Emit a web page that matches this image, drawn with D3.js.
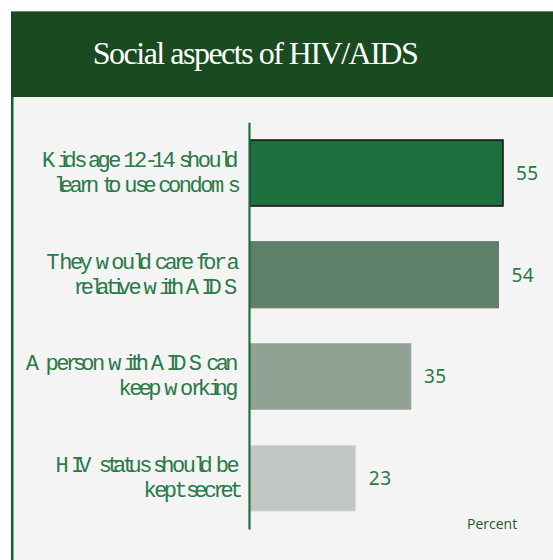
<!DOCTYPE html>
<html>
<head>
<meta charset="utf-8">
<script src="https://cdn.jsdelivr.net/npm/d3@7"></script>
<style>
  html, body { margin: 0; padding: 0; background: #ffffff; }
  svg { display: block; }
</style>
</head>
<body>
<svg id="chart" width="553" height="560"></svg>
<script>
// ---------- data ----------
const title = "Social aspects of HIV/AIDS";
const categories = [
  "Kids age 12-14 should learn to use condoms",
  "They would care for a relative with AIDS",
  "A person with AIDS can keep working",
  "HIV status should be kept secret"
];
const labelLines = [
  ["Kids age 12-14 should", "learn to use condoms"],
  ["They would care for a", "relative with AIDS"],
  ["A person with AIDS can", "keep working"],
  ["HIV status should be", "kept secret"]
];
const values = [55, 54, 35, 23];
const axisTitle = "Percent";

// ---------- layout ----------
const W = 553, H = 560;
const svg = d3.select("#chart");

// frame
svg.append("rect").attr("x", 11).attr("y", 11).attr("width", W - 11).attr("height", 86).attr("fill", "#1a4a1f");
svg.append("line").attr("x1", 11).attr("x2", W).attr("y1", 11.5).attr("y2", 11.5).attr("stroke", "#6b8a6f").attr("stroke-width", 1);
svg.append("rect").attr("x", 11).attr("y", 97).attr("width", W - 11).attr("height", H - 97).attr("fill", "#f3f4f3");
svg.append("rect").attr("x", 11).attr("y", 97).attr("width", 2.5).attr("height", H - 97).attr("fill", "#1d5a2b");

svg.append("text")
  .attr("x", 255).attr("y", 64)
  .attr("text-anchor", "middle")
  .attr("font-family", "'Liberation Serif', 'Times New Roman', serif")
  .attr("font-size", 32)
  .attr("letter-spacing", -1.5)
  .attr("fill", "#ffffff")
  .text(title);

// scales
const x = d3.scaleLinear().domain([0, 55]).range([250, 503]);
const y = d3.scaleBand().domain(categories).range([122.2, 529]).paddingInner(0.351).paddingOuter(0.175);
const fillScale = d3.scaleOrdinal().domain(categories).range(["#1d6f3e", "#5f8069", "#90a294", "#c1c6c5"]);
const strokeScale = d3.scaleOrdinal().domain(categories).range(["#111111", "#747474", "#90a294", "#e2e5e4"]);
const strokeWScale = d3.scaleOrdinal().domain(categories).range([1.5, 1.2, 0.5, 1]);

// bars
svg.append("g").selectAll("rect").data(categories).join("rect")
  .attr("x", x(0))
  .attr("y", d => y(d))
  .attr("width", (d, i) => x(values[i]) - x(0))
  .attr("height", y.bandwidth())
  .attr("fill", d => fillScale(d))
  .attr("stroke", d => strokeScale(d))
  .attr("stroke-width", d => strokeWScale(d));

// axis line
const axisG = svg.append("g").attr("transform", "translate(249,0)")
  .call(d3.axisLeft(y).tickSize(0).tickFormat(""));
axisG.select(".domain").attr("stroke", "#1d6f3e").attr("stroke-width", 2.2);

// value labels
svg.append("g").selectAll("text").data(categories).join("text")
  .attr("x", (d, i) => x(values[i]) + 13)
  .attr("y", d => y(d) + y.bandwidth() / 2 + 7)
  .attr("font-family", "'Noto Sans', 'DejaVu Sans', sans-serif")
  .attr("font-size", 19)
  .attr("letter-spacing", 0.5)
  .attr("fill", "#2a7a48")
  .text((d, i) => values[i]);

// category labels: laid out with proportional metrics, drawn with a monospaced face (as in the original)
const clipId = "labclip";
svg.append("defs").append("clipPath").attr("id", clipId)
  .append("rect").attr("x", 14).attr("y", 100).attr("width", 233).attr("height", 440);
const measure = svg.append("text")
  .attr("font-family", "'Liberation Serif', 'Times New Roman', serif")
  .attr("font-size", 21.5)
  .attr("x", 0).attr("y", -100);
const labG = svg.append("g").attr("clip-path", `url(#${clipId})`);
const rightEdge = 236;
categories.forEach((cat, ci) => {
  const cy = y(cat) + y.bandwidth() / 2;
  labelLines[ci].forEach((line, li) => {
    measure.text(line);
    const total = measure.node().getComputedTextLength();
    const xs = [];
    for (let k = 0; k < line.length; k++) {
      xs.push(rightEdge - total + (k === 0 ? 0 : measure.node().getSubStringLength(0, k)));
    }
    labG.append("text")
      .attr("x", xs.map(v => v.toFixed(2)).join(" "))
      .attr("y", cy - 6 + li * 25)
      .attr("font-family", "'Liberation Mono', 'Courier New', monospace")
      .attr("font-size", 22)
      .attr("fill", "#2a7a48")
      .text(line);
  });
});
measure.remove();

// axis title
svg.append("text")
  .attr("x", 467).attr("y", 529)
  .attr("font-family", "'Open Sans', 'Noto Sans', sans-serif")
  .attr("font-size", 14)
  .attr("fill", "#1e5a2a")
  .text(axisTitle);
</script>
</body>
</html>
